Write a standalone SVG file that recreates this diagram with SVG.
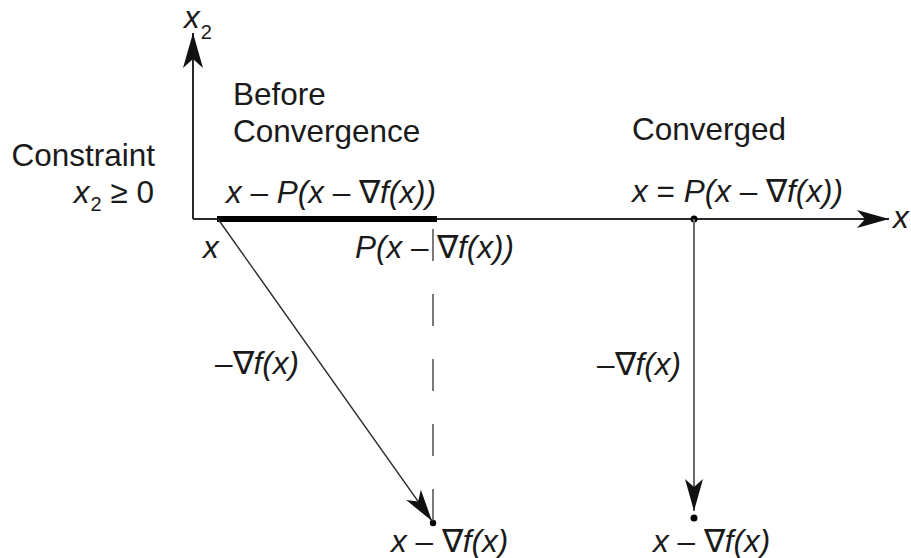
<svg xmlns="http://www.w3.org/2000/svg" width="911" height="558" viewBox="0 0 911 558">
<style>
text{font-family:"Liberation Sans",Arial,sans-serif;font-size:31.5px;fill:#1a1a1a}
.it{font-style:italic}
.up{font-style:normal}
.sub{font-size:20px}
.axis{stroke:#2a2a2a;stroke-width:2;fill:none}
.thin{stroke:#2a2a2a;stroke-width:1.4;fill:none}
.gray{stroke:#6a6a6a;stroke-width:2;fill:none}
.dash{stroke:#333;stroke-width:1.3;stroke-dasharray:32 33;fill:none}
</style>
<defs>
<marker id="ah" markerUnits="userSpaceOnUse" viewBox="0 0 32 20" markerWidth="32" markerHeight="20" refX="32" refY="10" orient="auto">
<path d="M0,1 L32,10 L0,19 L8,10 Z" fill="#111"/>
</marker>
<marker id="ahBig" markerUnits="userSpaceOnUse" viewBox="0 0 35 20" markerWidth="35" markerHeight="20" refX="35" refY="10" orient="auto">
<path d="M0,0 L35,10 L0,20 L9,10 Z" fill="#111"/>
</marker>
</defs>

<g id="axes">
<line class="axis" x1="193" y1="219" x2="193" y2="33" marker-end="url(#ahBig)"/>
<line class="axis" x1="193" y1="219" x2="889" y2="219" marker-end="url(#ah)"/>
</g>

<g id="labels-axes">
<text x="184" y="28" class="it">x<tspan class="sub up" dx="1" dy="11">2</tspan></text>
<text x="893" y="228" class="it">x</text>
</g>

<g id="constraint">
<text x="155" y="166" text-anchor="end">Constraint</text>
<text x="154" y="203" text-anchor="end"><tspan class="it">x</tspan><tspan class="sub" dx="1" dy="8">2</tspan><tspan dy="-8"> ≥ 0</tspan></text>
</g>

<g id="before">
<text x="233" y="105">Before</text>
<text x="233" y="142">Convergence</text>
<text x="226" y="203" class="it">x <tspan class="up">–</tspan> P(x <tspan class="up">– ∇</tspan>f(x))</text>
<line x1="217" y1="219" x2="437" y2="219" stroke="#000" stroke-width="6"/>
<text x="203" y="258" class="it">x</text>
<text x="355" y="258" class="it">P(x <tspan class="up">–</tspan></text>
<text x="437" y="258" class="it"><tspan class="up">∇</tspan>f(x))</text>
<text x="215" y="374" class="it"><tspan class="up">–∇</tspan>f(x)</text>
<circle cx="433" cy="523" r="3.2" fill="#000"/>
<text x="391" y="552" class="it">x <tspan class="up">– ∇</tspan>f(x)</text>
</g>

<g id="converged">
<text x="632" y="140">Converged</text>
<text x="632" y="202" class="it">x <tspan class="up">=</tspan> P(x <tspan class="up">– ∇</tspan>f(x))</text>
<circle cx="694" cy="219" r="3.5" fill="#000"/>
<text x="597" y="375" class="it"><tspan class="up">–∇</tspan>f(x)</text>
<circle cx="694" cy="518" r="3.5" fill="#000"/>
<text x="653" y="552" class="it">x <tspan class="up">– ∇</tspan>f(x)</text>
</g>

<g id="connectors">
<line class="dash" x1="433" y1="229" x2="433" y2="523"/>
<line class="thin" x1="218" y1="219" x2="432" y2="521" marker-end="url(#ah)"/>
<line class="gray" x1="694" y1="219" x2="694" y2="511" marker-end="url(#ah)"/>
</g>
</svg>
